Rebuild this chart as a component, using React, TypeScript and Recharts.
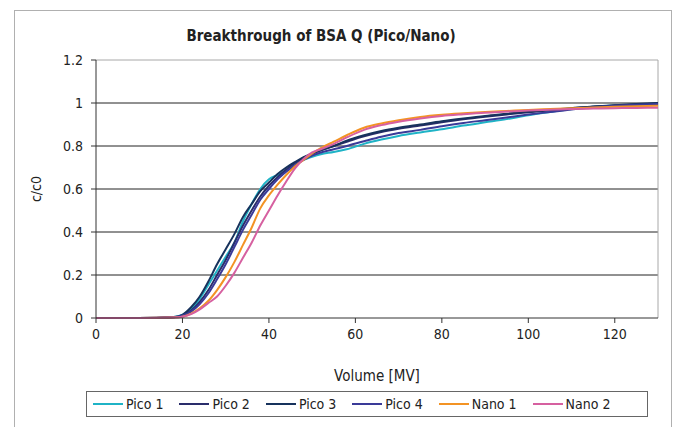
import React from 'react';
import { LineChart, Line, XAxis, YAxis, ReferenceLine, Legend } from 'recharts';

// volume [MV] at which each curve was read
const volume = [0, 10, 18, 20, 22, 24, 26, 28, 30, 32, 34, 36, 38, 40, 42, 44, 46, 48, 50, 52, 55, 58, 62, 66, 70, 75, 80, 85, 90, 95, 100, 105, 110, 115, 120, 125, 130];

const pico1 = [0, 0, 0.005, 0.015, 0.04, 0.09, 0.155, 0.22, 0.285, 0.35, 0.45, 0.53, 0.6, 0.645, 0.665, 0.685, 0.71, 0.735, 0.75, 0.762, 0.772, 0.785, 0.81, 0.83, 0.847, 0.863, 0.878, 0.895, 0.91, 0.925, 0.943, 0.958, 0.972, 0.982, 0.988, 0.99, 0.995];
const pico2 = [0, 0, 0.004, 0.012, 0.035, 0.075, 0.13, 0.2, 0.27, 0.35, 0.43, 0.5, 0.565, 0.615, 0.655, 0.69, 0.72, 0.745, 0.765, 0.78, 0.8, 0.82, 0.845, 0.865, 0.88, 0.895, 0.91, 0.924, 0.936, 0.947, 0.957, 0.966, 0.975, 0.982, 0.988, 0.993, 0.998];
const pico3 = [0, 0, 0.005, 0.015, 0.05, 0.1, 0.17, 0.25, 0.32, 0.39, 0.47, 0.53, 0.59, 0.63, 0.67, 0.7, 0.725, 0.748, 0.765, 0.78, 0.8, 0.825, 0.85, 0.87, 0.885, 0.9, 0.915, 0.928, 0.94, 0.95, 0.96, 0.968, 0.976, 0.984, 0.99, 0.995, 1.0];
const pico4 = [0, 0, 0.004, 0.012, 0.03, 0.065, 0.115, 0.18, 0.25, 0.33, 0.41, 0.48, 0.55, 0.6, 0.645, 0.68, 0.71, 0.735, 0.755, 0.77, 0.785, 0.8, 0.822, 0.843, 0.86, 0.875, 0.892, 0.907, 0.92, 0.933, 0.946, 0.958, 0.97, 0.98, 0.987, 0.992, 0.996];
const nano1 = [0, 0, 0.002, 0.006, 0.02, 0.045, 0.08, 0.13, 0.19, 0.26, 0.34, 0.42, 0.51, 0.57, 0.62, 0.665, 0.705, 0.735, 0.765, 0.79, 0.82, 0.85, 0.885, 0.905, 0.92, 0.935, 0.945, 0.952, 0.958, 0.963, 0.968, 0.972, 0.976, 0.979, 0.982, 0.985, 0.987];
const nano2 = [0, 0, 0.002, 0.006, 0.018, 0.04, 0.07, 0.1, 0.15, 0.21, 0.28, 0.35, 0.43, 0.5, 0.57, 0.635, 0.695, 0.74, 0.77, 0.785, 0.81, 0.84, 0.875, 0.897, 0.913, 0.928, 0.94, 0.948, 0.955, 0.96, 0.965, 0.969, 0.972, 0.974, 0.976, 0.977, 0.978];

const xTicks = [0, 20, 40, 60, 80, 100, 120];
const yTicks = [0, 0.2, 0.4, 0.6, 0.8, 1, 1.2];
const gridValues = [0.2, 0.4, 0.6, 0.8, 1];

const series = [
  { key: 'pico1', name: 'Pico 1', values: pico1, color: '#1fb3c6' },
  { key: 'pico2', name: 'Pico 2', values: pico2, color: '#2a2d6b' },
  { key: 'pico3', name: 'Pico 3', values: pico3, color: '#17325c' },
  { key: 'pico4', name: 'Pico 4', values: pico4, color: '#3a3a98' },
  { key: 'nano1', name: 'Nano 1', values: nano1, color: '#f39324' },
  { key: 'nano2', name: 'Nano 2', values: nano2, color: '#d660a0' },
];

const data = volume.map((v, i) => {
  const row: Record<string, number> = { volume: v };
  series.forEach(s => { row[s.key] = s.values[i]; });
  return row;
});

const FONT = "'Liberation Sans Narrow', 'DejaVu Sans Condensed', 'Liberation Sans', sans-serif";

const LegendBox = () => (
  <div style={{
    display: 'flex', alignItems: 'center', border: '1px solid #666', height: 26, width: 562,
    boxSizing: 'border-box', paddingLeft: 6, fontFamily: FONT, fontSize: 14, color: '#222',
  }}>
    {series.map(s => (
      <div key={s.key} style={{ display: 'flex', alignItems: 'center', marginRight: 16 }}>
        <div style={{ width: 30, height: 2, background: s.color, marginRight: 3 }} />
        <span>{s.name}</span>
      </div>
    ))}
  </div>
);

export default function App() {
  return (
    <div style={{ position: 'absolute', left: 0, top: 0, width: 675, height: 427, background: '#fff', overflow: 'hidden' }}>
      <div style={{ position: 'absolute', left: 14, top: 10, width: 658, height: 430, border: '1px solid #b0b0b0', boxSizing: 'border-box' }} />
      <div style={{ position: 'absolute', left: 121, top: 27, width: 400, textAlign: 'center', fontFamily: FONT, fontWeight: 'bold', fontSize: 15, color: '#222' }}>
        Breakthrough of BSA Q (Pico/Nano)
      </div>
      <div style={{ position: 'absolute', left: 277, top: 367, width: 200, textAlign: 'center', fontFamily: FONT, fontSize: 15, color: '#222' }}>
        Volume [MV]
      </div>
      <div style={{ position: 'absolute', left: 6, top: 180, width: 60, height: 18, lineHeight: '18px', textAlign: 'center', fontFamily: FONT, fontSize: 14, color: '#222', transform: 'rotate(-90deg)' }}>
        c/c0
      </div>
      <LineChart
        width={675}
        height={427}
        data={data}
        margin={{ top: 60, right: 17, bottom: 53, left: 36 }}
        style={{ position: 'absolute', left: 0, top: 0 }}
      >
        <XAxis
          dataKey="volume"
          type="number"
          domain={[0, 130]}
          ticks={xTicks}
          allowDataOverflow
          height={30}
          tickSize={5}
          tickMargin={6}
          stroke="#333"
          tick={{ fill: '#222', fontSize: 14, fontFamily: FONT }}
        />
        <YAxis
          type="number"
          domain={[0, 1.2]}
          ticks={yTicks}
          width={60}
          tickSize={5}
          tickMargin={8}
          stroke="#333"
          tick={{ fill: '#222', fontSize: 14, fontFamily: FONT }}
        />
        {gridValues.map(g => (
          <ReferenceLine key={g} y={g} stroke="#222" strokeWidth={1} />
        ))}
        <ReferenceLine y={1.2} stroke="#a8a8a8" strokeWidth={1} />
        <ReferenceLine x={130} stroke="#a8a8a8" strokeWidth={1} />
        {series.map(s => (
          <Line
            key={s.key}
            dataKey={s.key}
            name={s.name}
            type="monotone"
            stroke={s.color}
            strokeWidth={2}
            dot={false}
            isAnimationActive={false}
          />
        ))}
        <Legend
          content={() => <LegendBox />}
          wrapperStyle={{ position: 'absolute', left: 86, top: 391, width: 562 }}
        />
      </LineChart>
    </div>
  );
}
